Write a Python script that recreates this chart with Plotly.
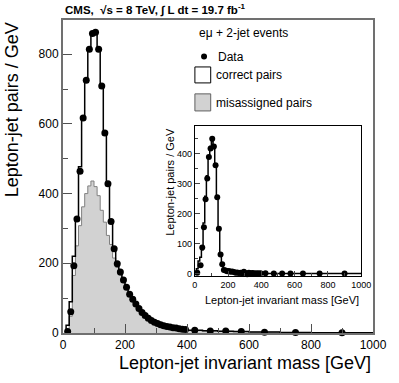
import plotly.graph_objects as go

# bin edges in GeV: 10 GeV bins up to 400, wider bins in the tail
edges = list(range(10, 401, 10)) + [450, 500, 550, 600, 700, 800, 1000]
centers = [(a + b) / 2 for a, b in zip(edges[:-1], edges[1:])]

data = [4, 61, 193, 327, 464, 617, 725, 814, 859, 863, 814, 709, 574, 428, 320, 242,
        199, 175, 152, 131, 111, 97, 83, 70, 59, 50, 42, 36, 31, 27, 24, 21, 19, 17,
        15, 14, 12, 11, 10, 8, 6, 6, 4, 2.5, 1.5, 0.8]
total_mc = [22, 90, 220, 330, 477, 620, 726, 815, 860, 862, 815, 709, 575, 425, 318, 245,
            200, 176, 153, 132, 113, 98, 84, 71, 60, 51, 43, 37, 31, 27, 24, 21, 19, 17,
            15, 13, 12, 11, 10, 8, 6.5, 5, 4, 2.8, 1.6, 0.8]
misassigned = [6, 48, 165, 250, 308, 362, 400, 422, 436, 420, 394, 352, 318, 280, 254, 215,
               188, 166, 145, 125, 107, 92, 79, 68, 57, 48, 41, 35, 30, 26, 23, 20, 18, 16,
               14, 13, 11, 10, 9, 7.5, 6, 5, 4, 2.6, 1.5, 0.8]
inset_data = [3, -10, 28, 87, 155, 248, 317, 389, 417, 450, 424, 361, 255, 150, 64, 31,
              12, 10, 8, 9, 6, 7, 5, 3, 4, 2, 3, 1, 6, 2, -2, 3, 0, 2, 1, 0, 1, 0, 1,
              1, 0, 0, 0, 0, 0, 0]
correct_mc = [t - m for t, m in zip(total_mc, misassigned)]


def step(vals):
    xs = [edges[0]] + edges
    ys = [0] + list(vals) + [vals[-1]]
    return xs, ys


FONT = "Liberation Sans, Arial, sans-serif"
fig = go.Figure()

# main panel
sx, sy = step(misassigned)
fig.add_trace(go.Scatter(x=sx, y=sy, mode="lines", line_shape="hv", fill="tozeroy",
                         fillcolor="#d2d2d2", line=dict(color="#808080", width=1),
                         showlegend=False, hoverinfo="skip"))
sx, sy = step(total_mc)
fig.add_trace(go.Scatter(x=sx, y=sy, mode="lines", line_shape="hv",
                         line=dict(color="black", width=1.5), showlegend=False))
fig.add_trace(go.Scatter(x=centers, y=data, mode="markers",
                         marker=dict(color="black", size=7), showlegend=False,
                         cliponaxis=False))

# inset
sx, sy = step(correct_mc)
fig.add_trace(go.Scatter(x=sx, y=sy, mode="lines", line_shape="hv",
                         line=dict(color="black", width=1.5), showlegend=False,
                         xaxis="x2", yaxis="y2"))
fig.add_trace(go.Scatter(x=centers, y=inset_data, mode="markers",
                         marker=dict(color="black", size=6), showlegend=False,
                         cliponaxis=False, xaxis="x2", yaxis="y2"))

axis_common = dict(ticks="inside", showgrid=False, zeroline=False, mirror=True,
                   showline=True)

fig.update_layout(
    width=399, height=383,
    margin=dict(l=63, r=21, t=20, b=50),
    paper_bgcolor="white", plot_bgcolor="white",
    font=dict(family=FONT, color="black"),
    xaxis=dict(range=[0, 1000], tickvals=[0, 200, 400, 600, 800, 1000], ticklen=9,
               linecolor="#707070", linewidth=2, tickcolor="#505050",
               tickfont=dict(size=12), minor=dict(ticks="inside", dtick=100, ticklen=5,
                                                  tickcolor="#505050"),
               **axis_common),
    yaxis=dict(range=[0, 898], tickvals=[0, 200, 400, 600, 800], ticklen=9,
               linecolor="#707070", linewidth=2, tickcolor="#505050",
               tickfont=dict(size=12), minor=dict(ticks="inside", dtick=100, ticklen=5,
                                                  tickcolor="#505050"),
               **axis_common),
    xaxis2=dict(domain=[0.425, 0.962], anchor="y2", range=[0, 1000],
                tickvals=[0, 200, 400, 600, 800, 1000], ticklen=5,
                linecolor="black", linewidth=1, tickfont=dict(size=9),
                minor=dict(ticks="inside", dtick=100, ticklen=3), **axis_common),
    yaxis2=dict(domain=[0.183, 0.662], anchor="x2", range=[-7, 493],
                tickvals=[0, 100, 200, 300, 400], ticklen=5,
                linecolor="black", linewidth=1, tickfont=dict(size=9),
                minor=dict(ticks="inside", dtick=50, ticklen=3), **axis_common),
)

ann = [
    dict(x=0, y=1.032, text="<b>CMS,  √s = 8 TeV, ∫ L dt = 19.7 fb<sup>-1</sup></b>",
         xanchor="left", yanchor="middle", font=dict(size=11.5)),
    dict(x=1, y=-0.095, text="Lepton-jet invariant mass [GeV]", xanchor="right",
         yanchor="middle", font=dict(size=18)),
    dict(x=-0.165, y=1, text="Lepton-jet pairs / GeV", textangle=-90, xanchor="center",
         yanchor="top", font=dict(size=18)),
    dict(x=0.432, y=0.958, text="eμ + 2-jet events", xanchor="left", yanchor="middle",
         font=dict(size=12)),
    dict(x=0.492, y=0.883, text="Data", xanchor="left", yanchor="middle",
         font=dict(size=12)),
    dict(x=0.488, y=0.824, text="correct pairs", xanchor="left", yanchor="middle",
         font=dict(size=12)),
    dict(x=0.488, y=0.735, text="misassigned pairs", xanchor="left", yanchor="middle",
         font=dict(size=12)),
    dict(x=0.962, y=0.104, text="Lepton-jet invariant mass [GeV]", xanchor="right",
         yanchor="middle", font=dict(size=11)),
    dict(x=0.345, y=0.662, text="Lepton-jet pairs / GeV", textangle=-90,
         xanchor="center", yanchor="top", font=dict(size=11)),
]
for a in ann:
    fig.add_annotation(xref="paper", yref="paper", showarrow=False, **a)

# legend symbols
fig.add_shape(type="circle", xref="paper", yref="paper", xsizemode="pixel",
              ysizemode="pixel", xanchor=0.455, yanchor=0.883, x0=-3, x1=3, y0=-3, y1=3,
              fillcolor="black", line=dict(color="black", width=0))
fig.add_shape(type="rect", xref="paper", yref="paper", x0=0.4255, x1=0.4765,
              y0=0.799, y1=0.850, fillcolor="white", line=dict(color="black", width=1))
fig.add_shape(type="rect", xref="paper", yref="paper", x0=0.4255, x1=0.4765,
              y0=0.7095, y1=0.764, fillcolor="#d2d2d2", line=dict(color="#606060", width=1))

# drop the browser's default page margin so the figure sits at the window's corner
fig.write_html("out.html", config={"displayModeBar": False},
               post_script="document.body.style.margin='0';document.body.style.padding='0';")
